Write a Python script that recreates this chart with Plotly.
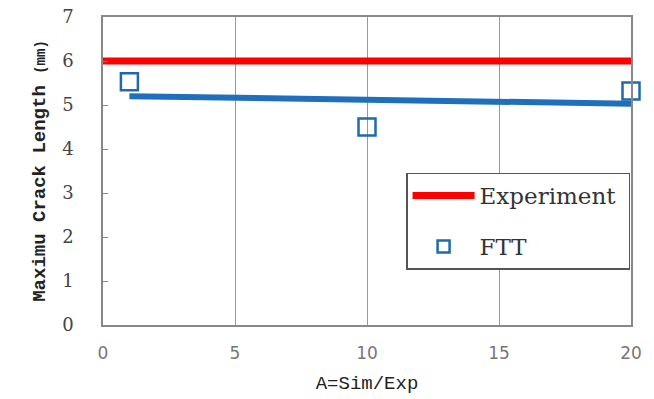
import plotly.graph_objects as go

# Data
exp_x = [0, 20]
exp_y = [6.0, 6.0]
ftt_x = [1, 10, 20]
ftt_y = [5.53, 4.5, 5.32]
trend_x = [1, 20]
trend_y = [5.2, 5.03]

x_ticks = [0, 5, 10, 15, 20]
y_ticks = [0, 1, 2, 3, 4, 5, 6, 7]

BLUE_M = "#1f6aa8"

fig = go.Figure()
fig.add_trace(go.Scatter(x=exp_x, y=exp_y, mode="lines", name="Experiment\u00a0",
                         line=dict(color="#ff0000", width=7), legendgroup="a"))
fig.add_trace(go.Scatter(x=trend_x, y=trend_y, mode="lines", showlegend=False,
                         line=dict(color="#1f6fbd", width=6)))
fig.add_trace(go.Scatter(x=ftt_x, y=ftt_y, mode="markers", name="FTT", legendgroup="b",
                         cliponaxis=False, showlegend=False,
                         marker=dict(symbol="square-open", size=17, color=BLUE_M,
                                     line=dict(width=2.5, color=BLUE_M))))
# legend entry for FTT (smaller symbol, as in the reference legend)
fig.add_trace(go.Scatter(x=[None], y=[None], mode="markers", name="FTT", legendgroup="b",
                         marker=dict(symbol="square-open", size=12, color=BLUE_M,
                                     line=dict(width=2.5, color=BLUE_M))))

fig.update_layout(
    width=654, height=399,
    margin=dict(l=103, r=23, t=17, b=74),
    paper_bgcolor="white", plot_bgcolor="white",
    showlegend=True,
    legend=dict(x=0.574, y=0.495, xanchor="left", yanchor="top",
                bgcolor="white", bordercolor="#555555", borderwidth=1.5,
                font=dict(family="DejaVu Serif", size=23, color="#333333"),
                tracegroupgap=18, itemwidth=62),
    xaxis=dict(range=[0, 20], tickvals=x_ticks, showgrid=True, gridcolor="#999999",
               gridwidth=1, showline=True, linecolor="#888888", linewidth=1.5, mirror=True,
               zeroline=False, ticks="", ticklabelstandoff=12, automargin=False,
               tickfont=dict(family="DejaVu Sans", size=17, color="#777777"),
               title=dict(text="A=Sim/Exp", font=dict(family="Liberation Mono", size=19, color="#222222"),
                          standoff=14)),
    yaxis=dict(range=[0, 7], tickvals=y_ticks, showgrid=False,
               showline=True, linecolor="#888888", linewidth=1.5, mirror=True,
               zeroline=False, ticks="inside", ticklen=5, tickcolor="#888888",
               ticklabelstandoff=24, automargin=False,
               tickfont=dict(family="DejaVu Serif", size=18, color="#444444"),
               title=dict(text="<b>Maximu Crack Length</b> <b><span style='font-size:14px'>(mm)</span></b>",
                          font=dict(family="Liberation Mono", size=19, color="#222222"),
                          standoff=12)),
)

fig.write_html("out.html")
